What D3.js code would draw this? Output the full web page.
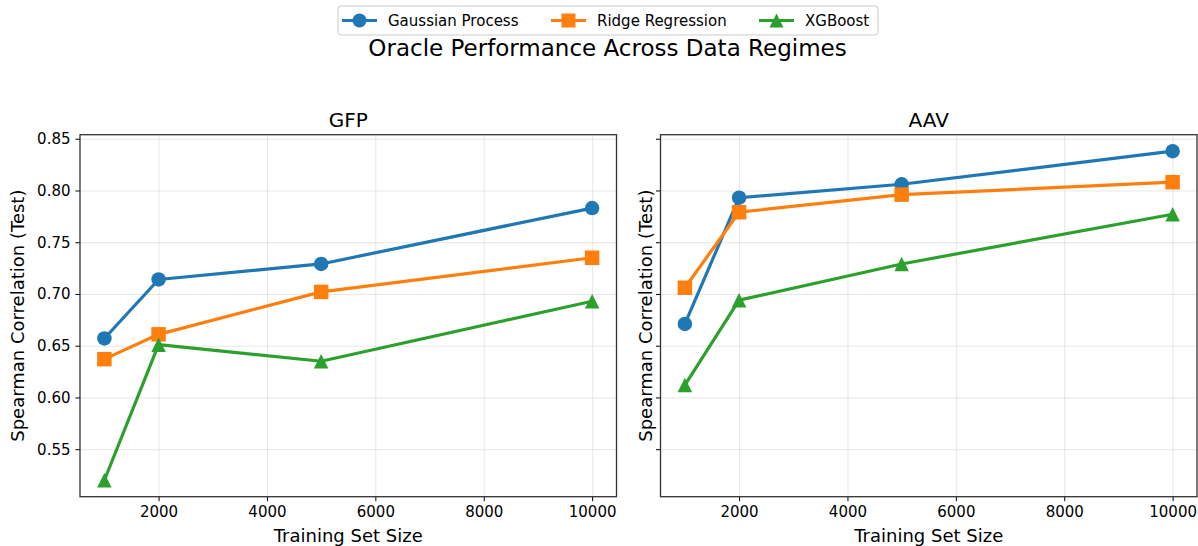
<!DOCTYPE html>
<html>
<head>
<meta charset="utf-8">
<script src="https://cdn.jsdelivr.net/npm/d3@7"></script>
<style>
  body { margin: 0; background: #fff; }
  svg { font-family: "DejaVu Sans", sans-serif; }
  .grid line { stroke: #b0b0b0; stroke-opacity: 0.3; }
  .grid .domain { display: none; }
</style>
</head>
<body>
<svg width="1198" height="546"></svg>
<script>
// data
var sizes = [1000, 2000, 5000, 10000];
var models = ["Gaussian Process", "Ridge Regression", "XGBoost"];
var colors = ["#1f77b4", "#ff7f0e", "#2ca02c"];
var gfpGP = [0.657, 0.714, 0.729, 0.783];
var gfpRidge = [0.637, 0.661, 0.702, 0.735];
var gfpXGB = [0.520, 0.651, 0.635, 0.693];
var aavGP = [0.671, 0.793, 0.806, 0.838];
var aavRidge = [0.706, 0.779, 0.796, 0.808];
var aavXGB = [0.612, 0.694, 0.729, 0.777];
var yTicks = [0.55, 0.60, 0.65, 0.70, 0.75, 0.80, 0.85];
var xTicks = [2000, 4000, 6000, 8000, 10000];

var panels = [
  {title: "GFP", left: 80, series: [gfpGP, gfpRidge, gfpXGB], labels: true},
  {title: "AAV", left: 660.5, series: [aavGP, aavRidge, aavXGB], labels: false}
];

var svg = d3.select("svg");
var plotTop = 134.7, plotBottom = 496.7, pw = 536.5;

var y = d3.scaleLinear().domain([0.5041, 0.8539]).range([plotBottom, plotTop]);

// matplotlib style "^": as wide as it is tall
var tri = {
  draw: function(ctx, size) {
    var r = Math.sqrt(size) / 2;
    ctx.moveTo(0, -r);
    ctx.lineTo(r, r);
    ctx.lineTo(-r, r);
    ctx.closePath();
  }
};

function marker(sel, i, size) {
  var sym = [d3.symbolCircle, d3.symbolSquare, tri][i];
  var area = [size * size * Math.PI / 4, size * size, size * size][i];
  sel.attr("d", d3.symbol().type(sym).size(area)).attr("fill", colors[i]);
}

panels.forEach(function(p) {
  var x = d3.scaleLinear().domain([550, 10450]).range([p.left, p.left + pw]);
  var g = svg.append("g");

  // grid
  g.append("g").attr("class", "grid")
    .attr("transform", "translate(0," + plotBottom + ")")
    .call(d3.axisBottom(x).tickValues(xTicks).tickSize(-(plotBottom - plotTop)).tickFormat(""));
  g.append("g").attr("class", "grid")
    .attr("transform", "translate(" + p.left + ",0)")
    .call(d3.axisLeft(y).tickValues(yTicks).tickSize(-pw).tickFormat(""));

  // lines
  p.series.forEach(function(vals, i) {
    var pts = sizes.map(function(s, k) { return [s, vals[k]]; });
    g.append("path")
      .datum(pts)
      .attr("fill", "none")
      .attr("stroke", colors[i])
      .attr("stroke-width", 3.2)
      .attr("stroke-linejoin", "round")
      .attr("d", d3.line().x(function(d) { return x(d[0]); }).y(function(d) { return y(d[1]); }));
    g.selectAll(null).data(pts).enter().append("path")
      .attr("transform", function(d) { return "translate(" + x(d[0]) + "," + y(d[1]) + ")"; })
      .call(marker, i, 14.5);
  });

  // axes
  var xa = g.append("g")
    .attr("transform", "translate(0," + plotBottom + ")")
    .call(d3.axisBottom(x).tickValues(xTicks).tickSize(4.5).tickPadding(5).tickFormat(d3.format("d")));
  var ya = g.append("g")
    .attr("transform", "translate(" + p.left + ",0)")
    .call(d3.axisLeft(y).tickValues(yTicks).tickSize(4.5).tickPadding(5)
      .tickFormat(p.labels ? d3.format(".2f") : ""));
  [xa, ya].forEach(function(a) {
    a.attr("font-family", "DejaVu Sans").attr("font-size", 15);
    a.select(".domain").remove();
    a.selectAll(".tick line").attr("stroke", "#000").attr("stroke-width", 1);
    a.selectAll(".tick text").attr("fill", "#000");
  });

  g.append("rect")
    .attr("x", p.left).attr("y", plotTop).attr("width", pw).attr("height", plotBottom - plotTop)
    .attr("fill", "none").attr("stroke", "#333").attr("stroke-width", 1.3);

  g.append("text")
    .attr("x", p.left + pw / 2).attr("y", plotTop - 8)
    .attr("text-anchor", "middle").attr("font-size", 20)
    .text(p.title);
  g.append("text")
    .attr("x", p.left + pw / 2).attr("y", 542)
    .attr("text-anchor", "middle").attr("font-size", 18)
    .text("Training Set Size");
  g.append("text")
    .attr("transform", "translate(" + (p.left - (p.labels ? 56 : 9)) + "," + ((plotTop + plotBottom) / 2) + ") rotate(-90)")
    .attr("text-anchor", "middle").attr("font-size", 18)
    .text("Spearman Correlation (Test)");
});

// title
svg.append("text")
  .attr("x", 607.5).attr("y", 56)
  .attr("text-anchor", "middle").attr("font-size", 23)
  .text("Oracle Performance Across Data Regimes");

// legend
var leg = svg.append("g");
leg.append("rect")
  .attr("x", 338).attr("y", 6).attr("width", 540).attr("height", 29).attr("rx", 3)
  .attr("fill", "#fff").attr("stroke", "#ccc").attr("stroke-width", 1);
var legX = [342, 551, 759];
models.forEach(function(m, i) {
  var lg = leg.append("g").attr("transform", "translate(" + legX[i] + ",20.5)");
  lg.append("line").attr("x1", 0).attr("x2", 35)
    .attr("stroke", colors[i]).attr("stroke-width", 3.2);
  lg.append("path").attr("transform", "translate(17.5,0)").call(marker, i, 14);
  lg.append("text").attr("x", 46).attr("y", 5.5).attr("font-size", 15).text(m);
});
</script>
</body>
</html>
